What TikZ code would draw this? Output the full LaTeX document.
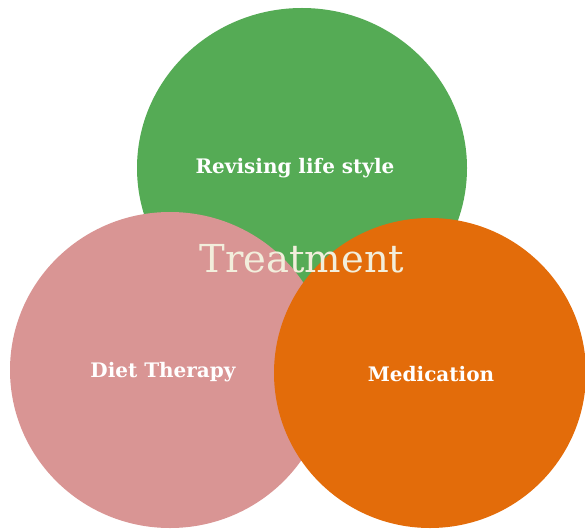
\documentclass[tikz,border=0pt]{standalone}
\usepackage{fontspec}
\setmainfont{DejaVu Serif}
\definecolor{cgreen}{HTML}{55AB55}
\definecolor{cpink}{HTML}{D99594}
\definecolor{corange}{HTML}{E36C0A}
\definecolor{ccream}{HTML}{F2EEDC}
\tikzset{
  blob/.style={ellipse, draw=none, inner sep=0pt},
  lbl/.style={text=white, font=\fontsize{20}{24}\selectfont\bfseries},
}
\usetikzlibrary{shapes.geometric}
\begin{document}
\begin{tikzpicture}[x=1pt,y=-1pt]
\useasboundingbox (0,0) rectangle (585,529);
\node[blob, fill=cgreen, minimum width=330pt, minimum height=320pt] (g) at (302,168) {};
\node[blob, fill=cpink, minimum width=320pt, minimum height=316pt] (p) at (170,370) {};
\node[blob, fill=corange, minimum width=312pt, minimum height=310pt] (o) at (430,373) {};
\node[lbl] (gl) at (295,168) {Revising life style};
\node[lbl] (pl) at (163,372) {Diet Therapy};
\node[lbl] (ol) at (431,374) {Medication};
\node[text=ccream, font=\fontsize{38.5}{44}\selectfont] (t) at (302,259) {Treatment};
\end{tikzpicture}
\end{document}
